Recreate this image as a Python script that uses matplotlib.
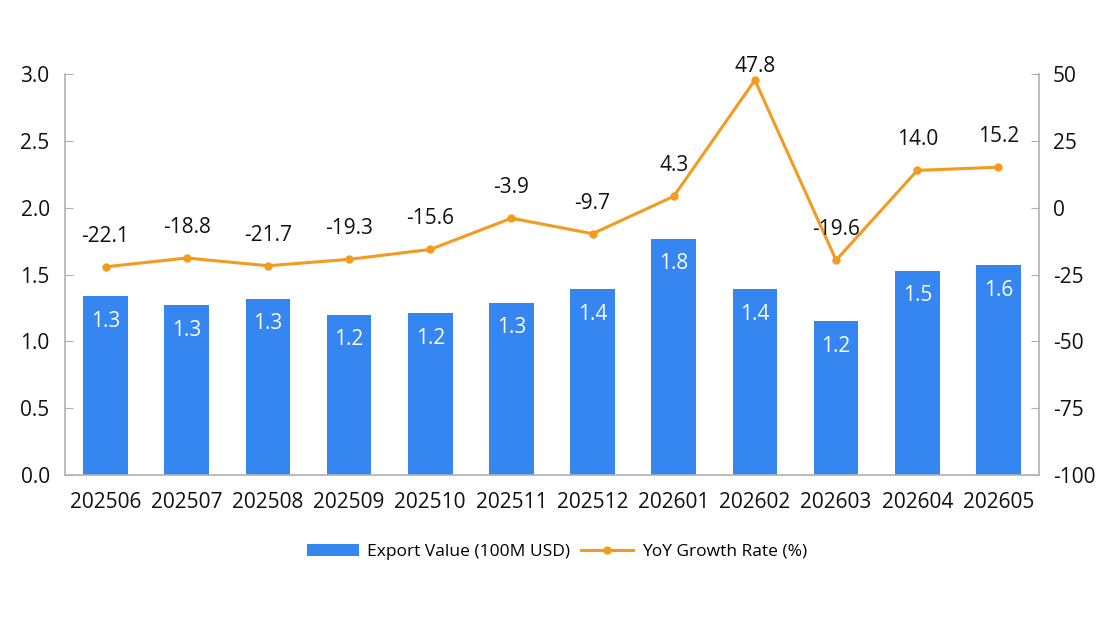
import matplotlib.pyplot as plt
import numpy as np

plt.rcParams['font.family'] = ['Open Sans', 'DejaVu Sans']
plt.rcParams['axes.unicode_minus'] = False

months = ['202506', '202507', '202508', '202509', '202510', '202511',
          '202512', '202601', '202602', '202603', '202604', '202605']
export_value = [1.34, 1.27, 1.32, 1.20, 1.21, 1.29, 1.39, 1.77, 1.39, 1.15, 1.53, 1.57]
export_labels = ['1.3', '1.3', '1.3', '1.2', '1.2', '1.3', '1.4', '1.8', '1.4', '1.2', '1.5', '1.6']
yoy_growth = [-22.1, -18.8, -21.7, -19.3, -15.6, -3.9, -9.7, 4.3, 47.8, -19.6, 14.0, 15.2]

bar_color = '#3586f0'
line_color = '#f29b1e'
axis_color = '#b0b0b0'

fig = plt.figure(figsize=(11.2, 6.4), dpi=100)
ax = fig.add_axes([0.058, 0.258, 0.8697, 0.626])
ax2 = ax.twinx()

x = np.arange(len(months))
bars = ax.bar(x, export_value, width=0.55, color=bar_color, label='Export Value (100M USD)', zorder=2)
for xi, v, lab in zip(x, export_value, export_labels):
    ax.text(xi, v - 0.19, lab, ha='center', va='center', color='white', fontsize=15)

ln, = ax2.plot(x, yoy_growth, color=line_color, lw=2.2, marker='o', ms=5,
               label='YoY Growth Rate (%)', zorder=3)
for xi, v in zip(x, yoy_growth):
    # keep the top label from running off the figure
    off = 10 if v > 40 else 22
    ax2.annotate(f'{v:.1f}', (xi, v), xytext=(0, off), textcoords='offset points',
                 ha='center', va='center', fontsize=15, color='#111111')

ax.set_xlim(-0.5, len(months) - 0.5)
ax.set_ylim(0, 3.0)
ax.set_yticks(np.arange(0, 3.01, 0.5))
ax.set_yticklabels([f'{t:.1f}' for t in np.arange(0, 3.01, 0.5)])
ax2.set_ylim(-100, 50)
ax2.set_yticks(np.arange(-100, 51, 25))

ax.set_xticks(x)
ax.set_xticklabels(months)

for a in (ax, ax2):
    a.spines['top'].set_visible(False)
    for s in ('left', 'right', 'bottom'):
        a.spines[s].set_color(axis_color)
        a.spines[s].set_linewidth(1.2)
    a.tick_params(axis='y', direction='in', length=6, color=axis_color, labelsize=15, labelcolor='#111111', pad=10)
ax.tick_params(axis='x', length=0, labelsize=15, labelcolor='#111111', pad=12)
ax2.spines['left'].set_visible(False)
ax.spines['right'].set_visible(False)
ax2.spines['bottom'].set_visible(False)
ax.tick_params(axis='y', pad=11)

ax2.set_zorder(ax.get_zorder() + 1)
ax2.patch.set_visible(False)

fig.legend([bars, ln], ['Export Value (100M USD)', 'YoY Growth Rate (%)'],
           loc='center', bbox_to_anchor=(0.497, 0.138), ncol=2, frameon=False,
           fontsize=12.5, handlelength=3.0, columnspacing=0.6, handletextpad=0.5)

fig.savefig('out.png', dpi=100)
